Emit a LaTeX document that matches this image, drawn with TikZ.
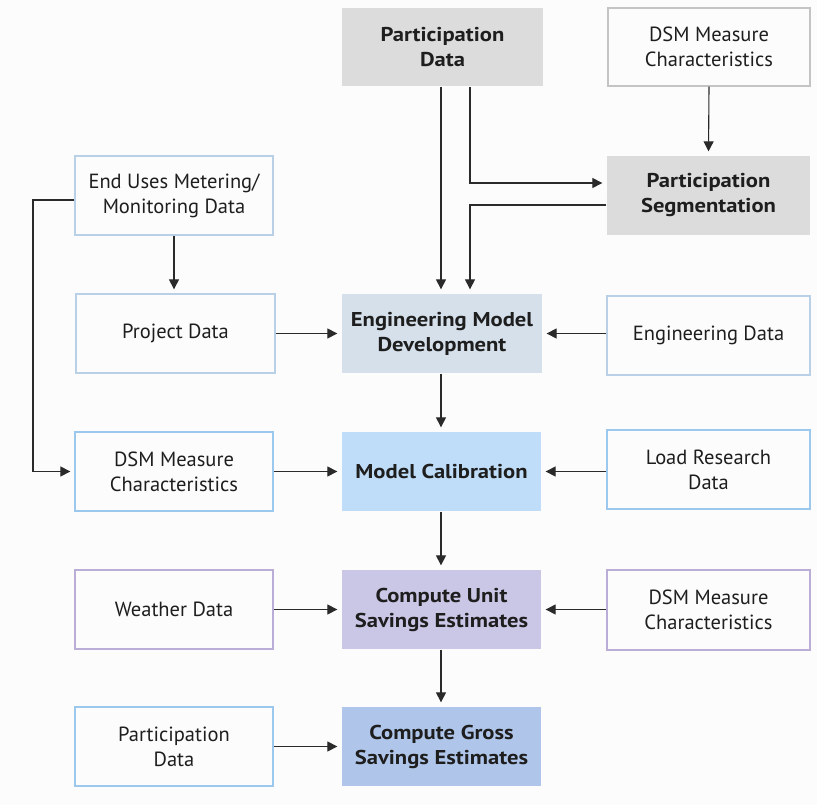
\documentclass[tikz,border=0pt]{standalone}
\usepackage{fontspec}
\setmainfont{PT Sans}[BoldFeatures={FakeStretch=1.13}]
\usetikzlibrary{arrows.meta}
\definecolor{bg}{HTML}{FCFCFC}
\definecolor{grayfill}{HTML}{DCDCDC}
\definecolor{emdfill}{HTML}{D5E0EA}
\definecolor{mcfill}{HTML}{BFDDF8}
\definecolor{cusefill}{HTML}{CAC7E6}
\definecolor{cgsefill}{HTML}{AFC6EA}
\definecolor{grayedge}{HTML}{C4C4C4}
\definecolor{blueedge}{HTML}{B9D0E6}
\definecolor{bluedeep}{HTML}{9CC8EE}
\definecolor{purpleedge}{HTML}{BBAED6}
\definecolor{txt}{HTML}{1E1E1E}
\definecolor{ln}{HTML}{2A2A2A}
\tikzset{
  box/.style={rectangle, minimum width=200pt, minimum height=79pt, align=center,
    font=\fontsize{20.5}{25}\selectfont, text=txt, inner sep=0pt, line width=1.3pt},
  procbox/.style={box, font=\fontsize{20}{25}\selectfont\bfseries},
  conn/.style={draw=ln, line width=1.1pt, -{Triangle[length=10pt,width=10pt]}, shorten >=4pt},
}
\begin{document}
\begin{tikzpicture}[x=1pt,y=-1pt]
\fill[bg] (0,0) rectangle (817,805);
\useasboundingbox (0,0) rectangle (817,805);
\node[procbox, fill=grayfill, minimum width=201pt, minimum height=78pt] (pd) at (442.5,47) {Participation\\Data};
\node[box, draw=grayedge, minimum width=202pt, minimum height=78pt] (dsma) at (709,47) {DSM Measure\\Characteristics};
\node[procbox, fill=grayfill, minimum width=203pt] (seg) at (708.5,195.5) {Participation\\Segmentation};
\node[box, draw=blueedge, minimum width=198pt] (end) at (174,195.5) {End Uses Metering/\\Monitoring Data};
\node[box, draw=blueedge, minimum width=199pt] (proj) at (175.5,333.5) {Project Data};
\node[procbox, fill=emdfill] (emd) at (442,333.5) {Engineering Model\\Development};
\node[box, draw=blueedge, minimum width=203pt] (eng) at (708.5,335.5) {Engineering Data};
\node[box, draw=bluedeep, minimum width=198pt] (dsmb) at (174,471.5) {DSM Measure\\Characteristics};
\node[procbox, fill=mcfill, minimum width=199pt] (mc) at (441.5,471.5) {Model Calibration};
\node[box, draw=bluedeep, minimum width=203pt] (load) at (708.5,469.5) {Load Research\\Data};
\node[box, draw=purpleedge, minimum width=198pt] (wea) at (174,609.5) {Weather Data};
\node[procbox, fill=cusefill, minimum width=199pt] (cuse) at (441.5,609.5) {Compute Unit\\Savings Estimates};
\node[box, draw=purpleedge, minimum width=203pt, minimum height=80pt] (dsmc) at (708.5,610) {DSM Measure\\Characteristics};
\node[box, draw=bluedeep, minimum width=198pt] (part) at (174,746.5) {Participation\\Data};
\node[procbox, fill=cgsefill, minimum width=199pt] (cgse) at (441.5,746.5) {Compute Gross\\Savings Estimates};
% connectors
\draw[conn] (pd.south -| 441,0) -- (emd.north -| 441,0);
\draw[conn] (pd.south -| 470,0) |- (seg.west |- 0,183);
\draw[conn] (seg.west |- 0,205) -| (emd.north -| 470,0);
\draw[conn] (dsma.south) -- (seg.north);
\draw[conn] (end.west |- 0,200) -- (33,200) |- (dsmb.west);
\draw[conn] (end.south) -- (proj.north -| end.south);
\draw[conn] (proj.east) -- (emd.west);
\draw[conn] (eng.west |- emd.west) -- (emd.east);
\draw[conn] (emd.south -| 441,0) -- (mc.north -| 441,0);
\draw[conn] (dsmb.east) -- (mc.west);
\draw[conn] (load.west |- mc.east) -- (mc.east);
\draw[conn] (mc.south -| 441,0) -- (cuse.north -| 441,0);
\draw[conn] (wea.east) -- (cuse.west);
\draw[conn] (dsmc.west |- cuse.east) -- (cuse.east);
\draw[conn] (cuse.south -| 441,0) -- (cgse.north -| 441,0);
\draw[conn] (part.east) -- (cgse.west);
\end{tikzpicture}
\end{document}
